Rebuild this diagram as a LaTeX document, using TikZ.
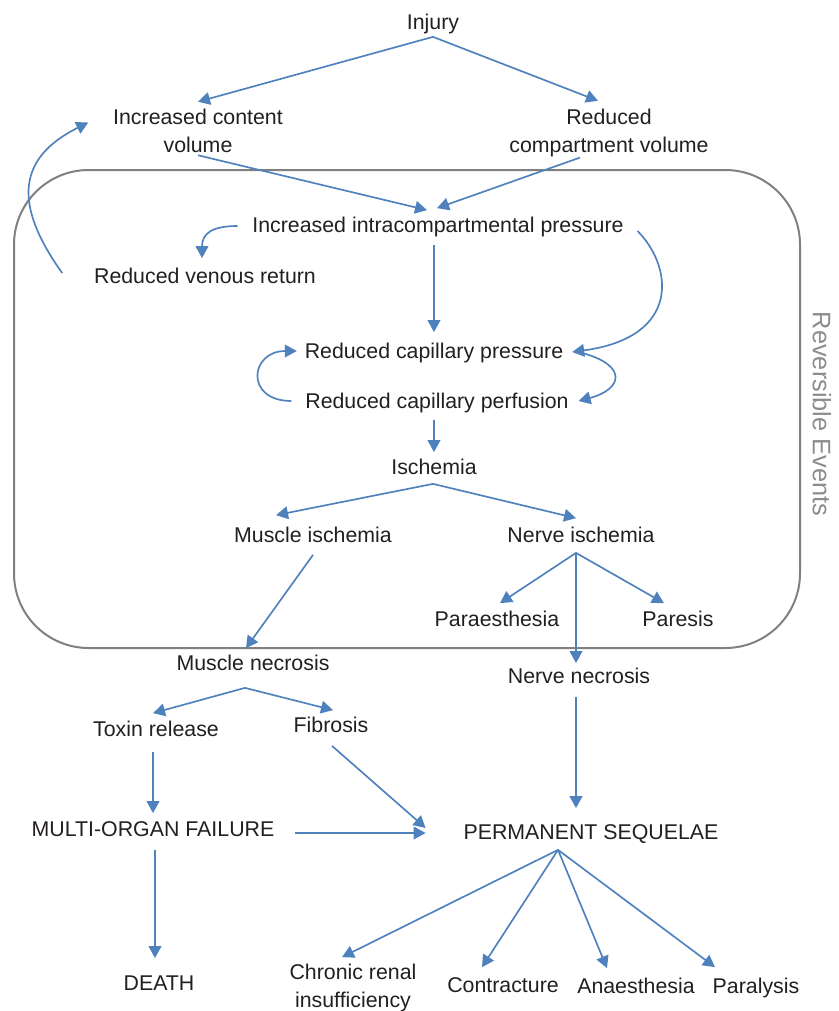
\documentclass[tikz,border=0pt]{standalone}
\usepackage{fontspec}
\setmainfont{Liberation Sans}
\usetikzlibrary{arrows.meta}
\usetikzlibrary{calc}
\definecolor{arrowblue}{RGB}{79,129,189}
\definecolor{txtgray}{RGB}{35,31,32}
\definecolor{boxgray}{RGB}{128,128,128}
\definecolor{sidegray}{RGB}{140,140,140}
\tikzstyle{flow}=[x=0.75pt, y=-0.75pt, font=\fontsize{16}{21}\selectfont, text=txtgray]
\tikzstyle{ev}=[inner sep=2pt, text height=11.5pt, text depth=3.4pt]
\tikzstyle{evtwo}=[inner sep=2pt, align=center]
\tikzstyle{arr}=[-{Triangle[length=9pt,width=9.5pt]}, draw=arrowblue, line width=1.25pt]
\tikzstyle{outline}=[draw=boxgray, line width=1.5pt, rounded corners=56pt]
\tikzstyle{sidelabel}=[text=sidegray, font=\fontsize{19}{21}\selectfont, rotate=-90]

\begin{document}
\begin{tikzpicture}[flow]
	\useasboundingbox (0,0) rectangle (839,1011);
	\draw[outline] (14,170) rectangle (800,648);
	\node[sidelabel] (rev) at (822,414) {Reversible Events};

	\draw (433,24) node[ev] (inj) {Injury};
	\draw (198,130.5) node[evtwo] (cont) {Increased content\\volume};
	\draw (609,132.7) node[evtwo] (comp) {Reduced\\compartment volume};
	\draw (438,227) node[ev] (icp) {Increased intracompartmental pressure};
	\draw (205,278) node[ev] (vr) {Reduced venous return};
	\draw (434,353) node[ev] (cpr) {Reduced capillary pressure};
	\draw (437,403) node[ev] (cpf) {Reduced capillary perfusion};
	\draw (434,469) node[ev] (isch) {Ischemia};
	\draw (313,537) node[ev] (mi) {Muscle ischemia};
	\draw (581,537) node[ev] (ni) {Nerve ischemia};
	\draw (497,621) node[ev] (para) {Paraesthesia};
	\draw (678,621) node[ev] (pares) {Paresis};
	\draw (253,665) node[ev] (mn) {Muscle necrosis};
	\draw (579,678) node[ev] (nn) {Nerve necrosis};
	\draw (156,731) node[ev] (tox) {Toxin release};
	\draw (331,727) node[ev] (fib) {Fibrosis};
	\draw (153,831) node[ev] (mof) {MULTI-ORGAN FAILURE};
	\draw (591,834) node[ev] (ps) {PERMANENT SEQUELAE};
	\draw (159,985) node[ev] (death) {DEATH};
	\draw (353,988) node[evtwo] (crf) {Chronic renal\\insufficiency};
	\draw (503,987) node[ev] (contr) {Contracture};
	\draw (636,988) node[ev] (anae) {Anaesthesia};
	\draw (756,988) node[ev] (paral) {Paralysis};

	%upper part
	\draw[arr] (inj.south) -- ($(cont.north)+(0,-4)$);
	\draw[arr] (inj.south) -- ($(comp.north)+(-11,-5)$);
	\draw[arr] (cont.south) -- ($(icp.north)+(-11,-4)$);
	\draw[arr] ($(comp.south)+(-29,-2)$) -- ($(icp.north)+(-1,-6)$);
	\draw[arr] ($(icp.west)+(-12,-1)$) .. controls +(-25,0) and +(0,-25) .. ($(vr.north)+(-3,-7)$);
	\draw[arr] ($(vr.west)+(-29,-5)$) .. controls +(-50,-70) and +(-70,35) .. ($(cont.west)+(-22,-8)$);
	\draw[arr] ($(icp.south -| cpr.north)+(0,5)$) -- ($(cpr.north)+(0,-8)$);
	\draw[arr] ($(icp.east)+(11,4)$) .. controls +(35,35) and +(110,-15) .. ($(cpr.east)+(6,-1)$);
	\draw[arr] ($(cpr.east)+(16,0)$) .. controls +(45,12) and +(45,-12) .. ($(cpf.east)+(7,-2)$);
	\draw[arr] ($(cpf.west)+(-11,-2)$) .. controls +(-47,0) and +(-47,0) .. ($(cpr.west)+(-5,-2)$);
	\draw[arr] ($(cpf.south -| isch.north)+(0,4)$) -- ($(isch.north)+(0,-4)$);
	\draw[arr] ($(isch.south)+(-1,2)$) -- ($(mi.north)+(-37,-9)$);
	\draw[arr] ($(isch.south)+(-1,2)$) -- ($(ni.north)+(-5,-6)$);

	%necrosis
	\draw[arr] ($(mi.south)+(0,5)$) -- ($(mn.north)+(-7,-4)$);
	\draw[arr] ($(ni.south)+(-5,3)$) -- ($(para.north)+(3,-5)$);
	\draw[arr] ($(ni.south)+(-5,3)$) -- ($(pares.north)+(-14,-5)$);
	\draw[arr] ($(ni.south)+(-5,3)$) -- ($(nn.north)+(-3,-2)$);
	\draw[arr] ($(mn.south)+(-8,10)$) -- ($(tox.north)+(-3,-5)$);
	\draw[arr] ($(mn.south)+(-8,10)$) -- ($(fib.north)+(2,-4)$);

	%outcomes
	\draw[arr] ($(tox.south -| mof.north)+(0,8)$) -- ($(mof.north)+(0,-5)$);
	\draw[arr] ($(fib.south)+(1,6)$) -- ($(ps.west)+(-35,-6)$);
	\draw[arr] ($(mof.east)+(18,2)$) -- ($(ps.west)+(-35,-1)$);
	\draw[arr] ($(nn.south)+(-3,6)$) -- ($(nn.south |- ps.north)+(-3,-13)$);
	\draw[arr] ($(mof.south)+(2,6)$) -- ($(death.north)+(-4,-14)$);
	\draw[arr] ($(ps.south)+(-33,3)$) -- ($(crf.north)+(-11,-4)$);
	\draw[arr] ($(ps.south)+(-33,3)$) -- ($(contr.north)+(-21,-7)$);
	\draw[arr] ($(ps.south)+(-33,3)$) -- ($(anae.north)+(-29,-7)$);
	\draw[arr] ($(ps.south)+(-33,3)$) -- ($(paral.north)+(-41,-8)$);
\end{tikzpicture}
\end{document}
